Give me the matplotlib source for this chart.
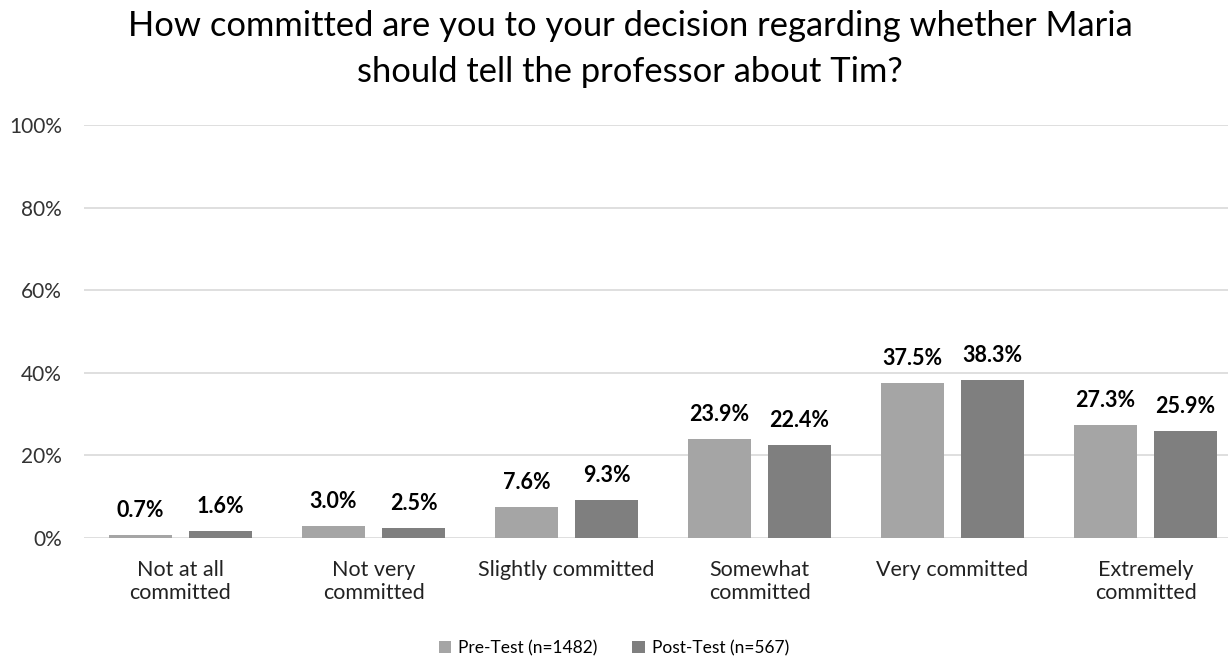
import numpy as np
import matplotlib
matplotlib.use("Agg")
import matplotlib.pyplot as plt

plt.rcParams['font.family'] = ['Lato', 'DejaVu Sans']

categories = ["Not at all\ncommitted", "Not very\ncommitted", "Slightly committed",
              "Somewhat\ncommitted", "Very committed", "Extremely\ncommitted"]
pre_test = [0.7, 3.0, 7.6, 23.9, 37.5, 27.3]
post_test = [1.6, 2.5, 9.3, 22.4, 38.3, 25.9]
series_names = ["Pre-Test (n=1482)", "Post-Test (n=567)"]
title_lines = ["How committed are you to your decision regarding whether Maria",
               "should tell the professor about Tim?"]
colors = ["#A5A5A5", "#7F7F7F"]

W, H = 1228, 662
fig = plt.figure(figsize=(W / 100, H / 100), dpi=100)
ax = fig.add_axes([84 / W, (H - 538) / H, 1158 / W, 413 / H])

x = np.arange(len(categories))
w = 0.33
off = 0.207
b1 = ax.bar(x - off, pre_test, w, color=colors[0], label=series_names[0], zorder=2)
b2 = ax.bar(x + off, post_test, w, color=colors[1], label=series_names[1], zorder=2)

for bars, vals in [(b1, pre_test), (b2, post_test)]:
    for r, v in zip(bars, vals):
        ax.annotate("%.1f%%" % v, (r.get_x() + r.get_width() / 2, v),
                    xytext=(0, 14), textcoords='offset pixels',
                    ha='center', va='bottom', fontsize=15.5, fontweight='bold', color='black')

ax.set_xlim(-0.5, len(categories) - 0.5)
ax.set_ylim(0, 100)
ax.set_yticks([0, 20, 40, 60, 80, 100])
ax.set_yticklabels(["%d%%" % t for t in [0, 20, 40, 60, 80, 100]], fontsize=15, color='#333333')
ax.set_xticks(x)
ax.set_xticklabels(categories, fontsize=15.5, color='#222222', linespacing=1.15)
ax.tick_params(axis='both', length=0)
ax.tick_params(axis='y', pad=16)
ax.tick_params(axis='x', pad=16)
ax.yaxis.grid(True, color='#D9D9D9', linewidth=1.2, zorder=0)
ax.set_axisbelow(True)
for s in ax.spines.values():
    s.set_visible(False)

# title: two lines, baselines
for line, yb in zip(title_lines, [36, 82]):
    fig.text(630 / W, 1 - yb / H, line, ha='center', va='baseline', fontsize=24.8, color='black')

fig.legend(handles=[b1, b2], loc='center', bbox_to_anchor=(0.5, 14 / H),
           ncol=2, frameon=False, fontsize=12.5, handlelength=0.7, handleheight=0.7,
           columnspacing=2.0, handletextpad=0.4)

fig.savefig("out.png", dpi=100)
